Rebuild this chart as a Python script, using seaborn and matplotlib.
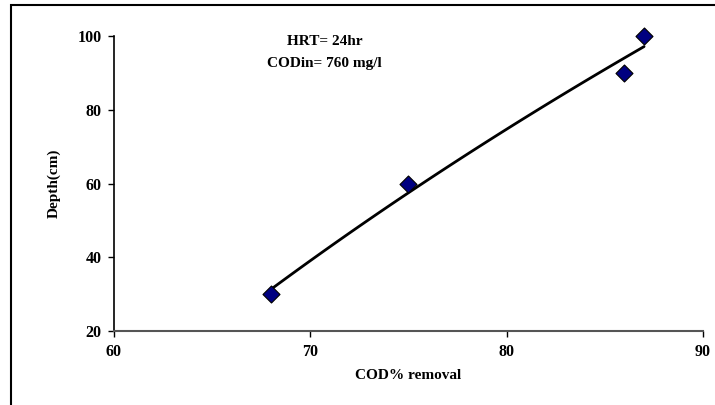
import matplotlib
matplotlib.use("Agg")
import matplotlib.pyplot as plt
import seaborn as sns
from matplotlib.patches import Rectangle

# data
cod_removal = [68, 75, 86, 87]
depth_cm = [30, 60, 90, 100]
x_ticks = [60, 70, 80, 90]
y_ticks = [20, 40, 60, 80, 100]

sns.set_theme(style="white")
plt.rcParams["font.family"] = ["Liberation Serif", "DejaVu Serif"]
plt.rcParams["font.weight"] = "bold"
plt.rcParams["text.color"] = "black"
plt.rcParams["axes.labelcolor"] = "black"
plt.rcParams["xtick.color"] = "black"
plt.rcParams["ytick.color"] = "black"

fig = plt.figure(figsize=(7.15, 4.05), dpi=100)
ax = fig.add_axes([0.1594, 0.1827, 0.8238, 0.7284])

# log trendline (Excel style) + points
sns.regplot(x=cod_removal, y=depth_cm, logx=True, ci=None, scatter=False,
            color="black", line_kws={"linewidth": 2}, ax=ax)
sns.scatterplot(x=cod_removal, y=depth_cm, marker="D", s=75, color="#000080",
                edgecolor="black", linewidth=0.8, zorder=5, clip_on=False, ax=ax)

ax.set_xlim(60, 90)
ax.set_ylim(20, 100)
ax.set_xticks(x_ticks)
ax.set_yticks(y_ticks)
ax.tick_params(axis="both", direction="out", length=4, width=1, color="black",
               labelcolor="black", labelsize=11.5, pad=5, left=True, bottom=True)
for lbl in ax.get_xticklabels() + ax.get_yticklabels():
    lbl.set_fontweight("bold")

sns.despine(ax=ax)
ax.spines["left"].set_color("black")
ax.spines["left"].set_linewidth(1.2)
ax.spines["bottom"].set_color("#555555")
ax.spines["bottom"].set_linewidth(1.5)

ax.set_xlabel("COD% removal", fontsize=11, fontweight="bold", labelpad=7, color="black")
ax.set_ylabel("Depth(cm)", fontsize=11, fontweight="bold", labelpad=12, color="black")

ax.text(0.358, 1.005, "HRT= 24hr\nCODin= 760 mg/l", transform=ax.transAxes,
        ha="center", va="top", fontsize=11, fontweight="bold", linespacing=1.9,
        color="black")

# chart border (only left and top visible in the crop)
fig.patches.append(Rectangle((11 / 715, -0.1), 1.2, 1 - 5 / 405 + 0.1,
                             transform=fig.transFigure, fill=False,
                             edgecolor="black", linewidth=1.5))

fig.savefig("out.png", dpi=100)
